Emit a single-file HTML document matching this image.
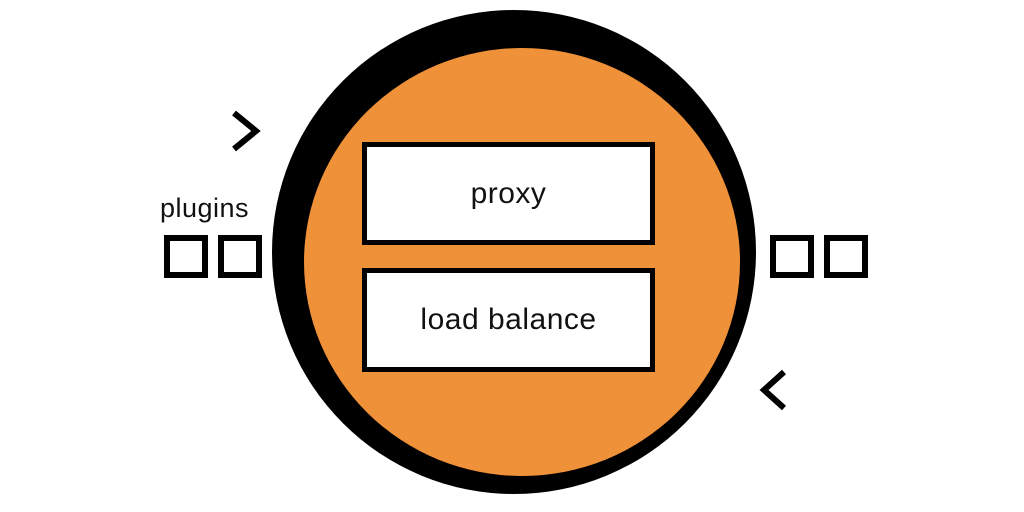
<!DOCTYPE html>
<html><head><style>
html,body{margin:0;padding:0;background:#fff;}
body{width:1024px;height:512px;position:relative;overflow:hidden;font-family:"Liberation Sans",sans-serif;}
.box{position:absolute;left:362px;width:283px;border:5px solid #000;background:#fff;display:flex;align-items:center;justify-content:center;font-size:30px;color:#111;letter-spacing:0.5px;}
.sq{position:absolute;top:235px;width:32px;height:31px;border:6px solid #000;background:#fff;}
</style></head><body>
<svg width="1024" height="512" style="position:absolute;left:0;top:0">
<circle cx="514" cy="252" r="242" fill="#000"/>
<ellipse cx="522" cy="262" rx="218" ry="214" fill="#ef9139"/>
<polyline points="234,113 256,131 234,149" fill="none" stroke="#000" stroke-width="6"/>
<polyline points="784,372 764,390 784,408" fill="none" stroke="#000" stroke-width="6"/>
</svg>
<div class="box" style="top:142px;height:93px">proxy</div>
<div class="box" style="top:268px;height:94px">load balance</div>
<div style="position:absolute;left:160px;top:193px;font-size:27px;color:#111;letter-spacing:0.5px">plugins</div>
<div class="sq" style="left:164px"></div>
<div class="sq" style="left:218px"></div>
<div class="sq" style="left:770px"></div>
<div class="sq" style="left:824px"></div>
</body></html>
